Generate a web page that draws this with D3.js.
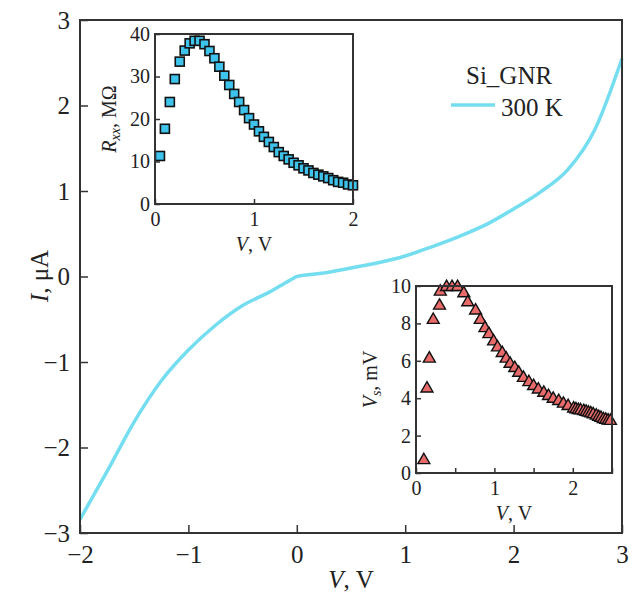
<!DOCTYPE html>
<html>
<head>
<meta charset="utf-8">
<script src="https://cdn.jsdelivr.net/npm/d3@7"></script>
<style>
  body { margin: 0; background: #fff; }
  svg text { font-family: "Liberation Serif", "DejaVu Serif", serif; fill: #222; }
</style>
</head>
<body>
<svg id="chart" width="636" height="594"></svg>
<script>
// main I-V curve (300 K)
const ivVolts = [-2, -1.75, -1.5, -1.25, -1, -0.75, -0.5, -0.25, -0.1, -0.03, 0, 0.25, 0.5, 0.75, 1, 1.25, 1.5, 1.75, 2, 2.25, 2.5, 2.75, 3];
const ivCurrent = [-2.84, -2.28, -1.70, -1.22, -0.86, -0.57, -0.34, -0.18, -0.07, -0.02, 0.0, 0.04, 0.10, 0.16, 0.24, 0.35, 0.47, 0.61, 0.79, 0.99, 1.25, 1.72, 2.55];

// inset 1: Rxx vs V
const rVolts = [0.05, 0.1, 0.15, 0.2, 0.25, 0.3, 0.35, 0.4, 0.45, 0.5, 0.55, 0.6, 0.65, 0.7, 0.75, 0.8, 0.85, 0.9, 0.95, 1.0,
  1.05, 1.1, 1.15, 1.2, 1.25, 1.3, 1.35, 1.4, 1.45, 1.5, 1.55, 1.6, 1.65, 1.7, 1.75, 1.8, 1.85, 1.9, 1.95, 2.0];
const rxx = [11.3, 17.7, 24.0, 29.4, 33.5, 36.1, 37.8, 38.4, 38.4, 37.6, 36.0, 34.3, 32.3, 30.2, 28.0, 25.9, 24.0, 22.1, 20.2, 18.7,
  17.1, 15.8, 14.6, 13.4, 12.2, 11.3, 10.5, 9.7, 9.1, 8.4, 7.9, 7.3, 6.9, 6.5, 6.1, 5.6, 5.2, 5.0, 4.6, 4.4];

// inset 2: Vs vs V
const sVolts = [0.1, 0.14, 0.17, 0.22, 0.3, 0.31, 0.39, 0.46, 0.53, 0.61, 0.66, 0.76, 0.82, 0.88, 0.93, 0.99, 1.04, 1.1, 1.15, 1.2,
  1.26, 1.31, 1.37, 1.44, 1.5, 1.56, 1.63, 1.69, 1.75, 1.82, 1.88, 1.94, 2.01, 2.04, 2.07, 2.1, 2.14, 2.17, 2.2, 2.23, 2.26,
  2.3, 2.33, 2.36, 2.39, 2.42, 2.45, 2.48];
const vs = [0.74, 4.57, 6.17, 8.24, 9.0, 9.75, 10.0, 10.0, 10.0, 9.66, 9.18, 8.74, 8.24, 7.8, 7.48, 7.09, 6.77, 6.47, 6.17, 5.89,
  5.67, 5.41, 5.14, 4.91, 4.7, 4.52, 4.34, 4.17, 4.02, 3.9, 3.76, 3.63, 3.5, 3.46, 3.42, 3.4, 3.37, 3.33, 3.28, 3.24, 3.19,
  3.12, 3.05, 3.0, 2.93, 2.9, 2.86, 2.84];

const mainXTicks = [-2, -1, 0, 1, 2, 3];
const mainYTicks = [-3, -2, -1, 0, 1, 2, 3];

const svg = d3.select('#chart');
const frameColor = '#333';
const lineColor = '#74def0';

// ---- main plot ----
const x = d3.scaleLinear().domain([-2, 3]).range([80, 622]);
const y = d3.scaleLinear().domain([-3, 3]).range([533, 20]);

svg.append('g')
  .attr('transform', 'translate(0,533)')
  .call(d3.axisBottom(x).tickValues(mainXTicks).tickSizeInner(-8).tickSizeOuter(0).tickPadding(12).tickFormat(d3.format('d')))
  .call(g => g.select('.domain').remove())
  .call(g => g.selectAll('line').attr('stroke', frameColor).attr('stroke-width', 1.5))
  .call(g => g.selectAll('text').attr('font-size', 25).attr('font-family', '"Liberation Serif", serif').attr('fill', '#222'));

svg.append('g')
  .attr('transform', 'translate(80,0)')
  .call(d3.axisLeft(y).tickValues(mainYTicks).tickSizeInner(-8).tickSizeOuter(0).tickPadding(10).tickFormat(d3.format('d')))
  .call(g => g.select('.domain').remove())
  .call(g => g.selectAll('line').attr('stroke', frameColor).attr('stroke-width', 1.5))
  .call(g => g.selectAll('text').attr('font-size', 25).attr('font-family', '"Liberation Serif", serif').attr('fill', '#222'));

const line = d3.line()
  .x((d, i) => x(ivVolts[i]))
  .y(d => y(d))
  .curve(d3.curveMonotoneX);

svg.append('path')
  .datum(ivCurrent)
  .attr('d', line)
  .attr('fill', 'none')
  .attr('stroke', lineColor)
  .attr('stroke-width', 3.5);

svg.append('rect')
  .attr('x', 80).attr('y', 20).attr('width', 542).attr('height', 513)
  .attr('fill', 'none').attr('stroke', frameColor).attr('stroke-width', 2);

// axis titles
svg.append('text')
  .attr('x', 351).attr('y', 588).attr('text-anchor', 'middle').attr('font-size', 25)
  .html('<tspan font-style="italic">V</tspan>, V');

svg.append('text')
  .attr('transform', 'translate(48,276) rotate(-90)')
  .attr('text-anchor', 'middle').attr('font-size', 25)
  .html('<tspan font-style="italic">I</tspan>, μA');

// legend
svg.append('text').attr('x', 466).attr('y', 84).attr('font-size', 25).text('Si_GNR');
svg.append('line').attr('x1', 451).attr('x2', 495).attr('y1', 105).attr('y2', 105)
  .attr('stroke', lineColor).attr('stroke-width', 3.5);
svg.append('text').attr('x', 501).attr('y', 116).attr('font-size', 25).text('300 K');

// ---- inset helper ----
function inset(opts) {
  const g = svg.append('g');
  const sx = d3.scaleLinear().domain(opts.xDomain).range([opts.left, opts.right]);
  const sy = d3.scaleLinear().domain(opts.yDomain).range([opts.bottom, opts.top]);

  g.append('rect')
    .attr('x', opts.left).attr('y', opts.top)
    .attr('width', opts.right - opts.left).attr('height', opts.bottom - opts.top)
    .attr('fill', '#fff');

  g.append('g')
    .attr('transform', `translate(0,${opts.bottom})`)
    .call(d3.axisBottom(sx).tickValues(opts.xTicks).tickSizeInner(-5).tickSizeOuter(0).tickPadding(8)
      .tickFormat(d => Number.isInteger(d) ? d : ''))
    .call(a => a.select('.domain').remove())
    .call(a => a.selectAll('line').attr('stroke', frameColor).attr('stroke-width', 1.5))
    .call(a => a.selectAll('text').attr('font-size', 20).attr('font-family', '"Liberation Serif", serif').attr('fill', '#222'));

  g.append('g')
    .attr('transform', `translate(${opts.left},0)`)
    .call(d3.axisLeft(sy).tickValues(opts.yTicks).tickSizeInner(-5).tickSizeOuter(0).tickPadding(5))
    .call(a => a.select('.domain').remove())
    .call(a => a.selectAll('line').attr('stroke', frameColor).attr('stroke-width', 1.5))
    .call(a => a.selectAll('text').attr('font-size', 20).attr('font-family', '"Liberation Serif", serif').attr('fill', '#222'));

  opts.draw(g, sx, sy);

  g.append('rect')
    .attr('x', opts.left).attr('y', opts.top)
    .attr('width', opts.right - opts.left).attr('height', opts.bottom - opts.top)
    .attr('fill', 'none').attr('stroke', frameColor).attr('stroke-width', 2);

  g.append('text')
    .attr('x', (opts.left + opts.right) / 2).attr('y', opts.bottom + 47)
    .attr('text-anchor', 'middle').attr('font-size', 20)
    .html('<tspan font-style="italic">V</tspan>, V');

  g.append('text')
    .attr('transform', `translate(${opts.titleX},${(opts.top + opts.bottom) / 2}) rotate(-90)`)
    .attr('text-anchor', 'middle').attr('font-size', 20)
    .html(opts.yTitle);
}

// inset 1: squares
inset({
  left: 155, right: 353, top: 34, bottom: 204,
  xDomain: [0, 2], yDomain: [0, 40],
  xTicks: [0, 1, 2], yTicks: [0, 10, 20, 30, 40],
  titleX: 116,
  yTitle: '<tspan font-style="italic">R</tspan><tspan font-style="italic" font-size="14" dy="4">xx</tspan><tspan dy="-4">, MΩ</tspan>',
  draw: (g, sx, sy) => {
    g.append('g').selectAll('rect')
      .data(rxx)
      .join('rect')
      .attr('x', (d, i) => sx(rVolts[i]) - 4.5)
      .attr('y', d => sy(d) - 4.5)
      .attr('width', 9).attr('height', 9)
      .attr('fill', '#3ec3ec')
      .attr('stroke', '#111').attr('stroke-width', 1.6);
  }
});

// inset 2: triangles
inset({
  left: 416, right: 612, top: 286, bottom: 473,
  xDomain: [0, 2.5], yDomain: [0, 10],
  xTicks: [0, 0.5, 1, 1.5, 2, 2.5], yTicks: [0, 2, 4, 6, 8, 10],
  titleX: 377,
  yTitle: '<tspan font-style="italic">V</tspan><tspan font-style="italic" font-size="14" dy="4">s</tspan><tspan dy="-4">, mV</tspan>',
  draw: (g, sx, sy) => {
    const tri = d3.symbol().type(d3.symbolTriangle).size(62);
    g.append('g').selectAll('path')
      .data(vs)
      .join('path')
      .attr('d', tri)
      .attr('transform', (d, i) => `translate(${sx(sVolts[i])},${sy(d) + 1})`)
      .attr('fill', '#e86a6a')
      .attr('stroke', '#111').attr('stroke-width', 1.4);
  }
});
</script>
</body>
</html>
